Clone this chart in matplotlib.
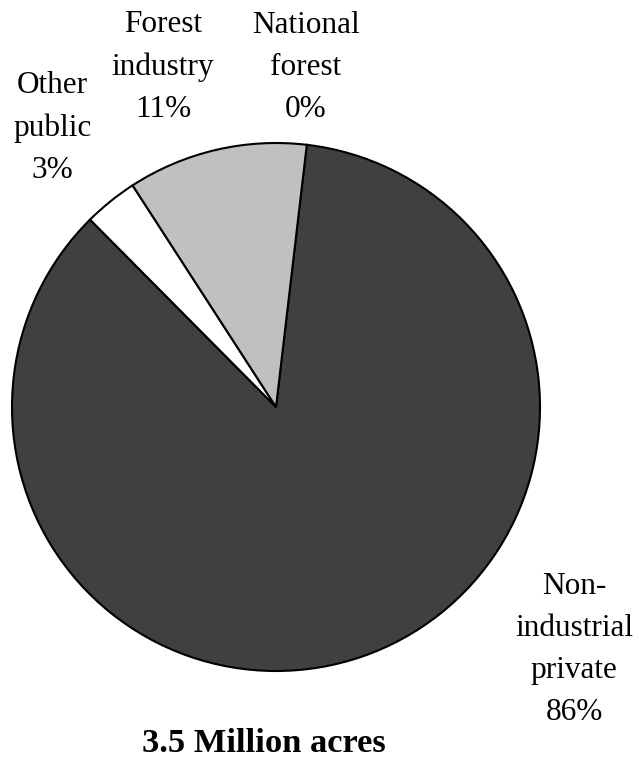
import matplotlib.pyplot as plt

# ownership shares (percent), clockwise from the top
categories = ['National\nforest', 'Non-\nindustrial\nprivate', 'Other\npublic', 'Forest\nindustry']
shares = [0.0, 85.7, 3.3, 11.0]
pct_labels = ['0%', '86%', '3%', '11%']
colors = ['#ffffff', '#404040', '#ffffff', '#c0c0c0']

plt.rcParams['font.family'] = ['Liberation Serif', 'DejaVu Serif']

fig = plt.figure(figsize=(6.39, 7.61), dpi=100)
ax = fig.add_axes([0, 0, 1, 1])

wedges, _ = ax.pie(shares, colors=colors, startangle=83.3, counterclock=False,
                   radius=1.0, wedgeprops={'edgecolor': 'black', 'linewidth': 1.5})

# label anchor = centre x / baseline of last line, in data units (pie radius = 1)
label_pos = [(0.114, 1.098), (1.129, -1.186), (-0.848, 0.867), (-0.428, 1.098)]
for name, pct, (x, y) in zip(categories, pct_labels, label_pos):
    ax.text(x, y, f'{name}\n{pct}', ha='center', va='baseline', fontsize=22.5,
            linespacing=1.6)

ax.text(-0.045, -1.308, '3.5 Million acres', ha='center', va='baseline',
        fontsize=24.8, fontweight='bold')

ax.set_xlim(-276 / 264, (639 - 276) / 264)
ax.set_ylim(-(761 - 407) / 264, 407 / 264)
ax.set_aspect('auto')
ax.axis('off')

fig.savefig('out.png', dpi=100, facecolor='white')
